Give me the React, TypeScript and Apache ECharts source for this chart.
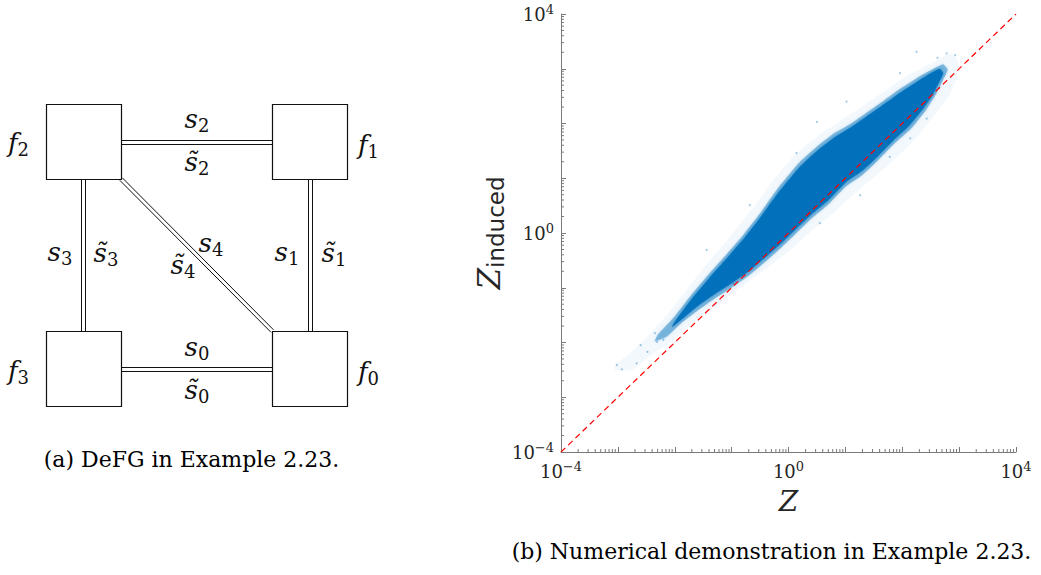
import React, { useEffect, useRef } from "react";
import * as echarts from "echarts";

// ---------- data (log10 values) ----------
// axis range, in decades
const axisMinExp = -4;
const axisMaxExp = 4;
// decades that carry a tick label
const xLabelExponents = [-4, 0, 4];
const yLabelExponents = [-4, 0, 4];

// outline of the sparse outer halo of the point cloud: [log10 Z, log10 Z_induced]
const haloUpper = [
  [-3.05, -2.42], [-2.7, -2.12], [-2.4, -1.8], [-2.1, -1.45], [-1.8, -1.05], [-1.5, -0.65],
  [-1.2, -0.28], [-0.9, 0.1], [-0.6, 0.5], [-0.3, 0.92], [0.1, 1.42], [0.5, 1.76], [0.9, 2.04],
  [1.3, 2.32], [1.7, 2.6], [2.1, 2.88], [2.5, 3.1], [2.85, 3.28],
];
const haloLower = [
  [2.98, 3.15], [2.95, 2.82], [2.82, 2.5], [2.6, 2.2], [2.3, 1.8], [2.0, 1.48], [1.6, 1.1],
  [1.2, 0.76], [0.8, 0.38], [0.4, 0.03], [0.0, -0.34], [-0.4, -0.66], [-0.8, -0.96], [-1.2, -1.28],
  [-1.6, -1.58], [-2.0, -1.94], [-2.4, -2.22], [-2.75, -2.5], [-3.05, -2.5],
];
// outline of the visible band (medium density edge)
const mainUpper = [
  [-2.3, -1.86], [-2.0, -1.52], [-1.7, -1.12], [-1.4, -0.75], [-1.1, -0.4], [-0.8, -0.04],
  [-0.5, 0.36], [-0.2, 0.8], [0.2, 1.3], [0.5, 1.58], [0.8, 1.82], [1.1, 2.0], [1.4, 2.22],
  [1.7, 2.44], [2.0, 2.66], [2.3, 2.86], [2.55, 3.0], [2.72, 3.08],
];
const mainLower = [
  [2.8, 2.98], [2.72, 2.8], [2.6, 2.55], [2.4, 2.22], [2.15, 1.9], [1.85, 1.62], [1.55, 1.3],
  [1.3, 1.06], [1.0, 0.84], [0.7, 0.52], [0.4, 0.26], [0.2, 0.06], [-0.1, -0.24], [-0.4, -0.52],
  [-0.7, -0.78], [-1.0, -1.0], [-1.3, -1.2], [-1.6, -1.42], [-1.9, -1.66], [-2.15, -1.9],
  [-2.35, -1.98],
];
// outline of the solid core
const coreUpper = [
  [-2.0, -1.62], [-1.7, -1.2], [-1.4, -0.83], [-1.1, -0.48], [-0.8, -0.12], [-0.5, 0.28],
  [-0.2, 0.71], [0.2, 1.21], [0.5, 1.5], [0.8, 1.74], [1.1, 1.93], [1.4, 2.15], [1.7, 2.37],
  [2.0, 2.59], [2.3, 2.79], [2.52, 2.93], [2.66, 3.0],
];
const coreLower = [
  [2.72, 2.92], [2.66, 2.78], [2.55, 2.55], [2.36, 2.26], [2.12, 1.96], [1.85, 1.7], [1.55, 1.38],
  [1.3, 1.14], [1.0, 0.92], [0.7, 0.6], [0.4, 0.34], [0.2, 0.14], [-0.1, -0.16], [-0.4, -0.44],
  [-0.7, -0.7], [-1.0, -0.92], [-1.3, -1.12], [-1.6, -1.34], [-1.9, -1.6], [-2.05, -1.72],
];
// isolated points outside the band
const outliers = [
  [-3.02, -2.41], [-2.93, -2.49], [-2.67, -2.38], [-2.48, -2.17], [-2.31, -1.99], [-2.35, -1.83],
  [-1.44, -0.31], [-0.68, 0.51], [0.14, 1.46], [0.5, 2.03], [1.02, 2.4], [1.96, 2.92],
  [2.25, 3.31], [2.78, 3.28], [2.43, 2.09], [2.14, 1.73], [1.78, 1.39], [1.26, 0.69],
  [0.55, 0.18], [-0.97, -0.92], [2.93, 3.25], [-2.6, -2.05], [-2.2, -1.95], [2.62, 3.2],
];
// reference line Z_induced = Z
const identityLine = [[-4, -4], [4, 4]];

// diagram labels
const nodeLabels = ["f", "f", "f", "f"];
const nodeIndex = ["2", "1", "3", "0"];
const edgeIndex = ["0", "1", "2", "3", "4"];
const captionA = "(a) DeFG in Example 2.23.";
const captionB = "(b) Numerical demonstration in Example 2.23.";

// ---------- styles ----------
const SERIF = "DejaVu Serif";
const SANS = "DejaVu Sans";
const INK = "#111111";
const AXIS = "#7a7a7a";
const LABEL = "#262626";

const pow10 = (pts: number[][]) => pts.map(([a, b]) => [Math.pow(10, a), Math.pow(10, b)]);

function bandSeries(upper: number[][], lower: number[][], fill: string, blur: number, shadow: string) {
  const pts = pow10(upper.concat(lower));
  return {
    type: "custom",
    silent: true,
    clip: false,
    data: pts,
    renderItem: (params: any, api: any) => {
      if (params.dataIndex !== 0) return null;
      const points: number[][] = [];
      for (let i = 0; i < pts.length; i++) {
        points.push(api.coord([api.value(0, i), api.value(1, i)]));
      }
      return {
        type: "polygon",
        shape: { points, smooth: 0.15 },
        style: { fill, shadowBlur: blur, shadowColor: shadow },
      };
    },
  };
}

const minorTicks: number[][] = [];
for (let k = axisMinExp; k < axisMaxExp; k++) {
  for (let m = 2; m <= 9; m++) minorTicks.push([m * Math.pow(10, k), m * Math.pow(10, k)]);
}

const tickRich = {
  b: { fontFamily: SERIF, fontSize: 18, lineHeight: 22, color: LABEL },
  sup: { fontFamily: SERIF, fontSize: 13, lineHeight: 12, verticalAlign: "top", color: LABEL },
};

function tickFormatter(allowed: number[]) {
  return (value: number) => {
    const e = Math.round(Math.log10(value));
    if (allowed.indexOf(e) < 0) return "";
    const s = e < 0 ? "\u2212" + Math.abs(e) : String(e);
    return "{b|10}{sup|" + s + "}";
  };
}

const mathRich = {
  m: { fontFamily: SERIF, fontStyle: "italic", fontSize: 26, lineHeight: 30, fill: INK },
  r: { fontFamily: SERIF, fontSize: 18, lineHeight: 18, verticalAlign: "bottom", fill: INK },
};

function mathText(x: number, y: number, main: string, sub: string, align = "center") {
  return {
    type: "text",
    x,
    y,
    silent: true,
    style: { text: "{m|" + main + "}{r|" + sub + "}", rich: mathRich, align, verticalAlign: "middle" },
  };
}

function hLine(x1: number, x2: number, y: number) {
  return { type: "line", silent: true, shape: { x1, y1: y, x2, y2: y }, style: { stroke: INK, lineWidth: 1 } };
}
function vLine(x: number, y1: number, y2: number) {
  return { type: "line", silent: true, shape: { x1: x, y1, x2: x, y2 }, style: { stroke: INK, lineWidth: 1 } };
}
function box(x: number, y: number) {
  return {
    type: "rect",
    silent: true,
    shape: { x, y, width: 75, height: 75 },
    style: { fill: "#ffffff", stroke: INK, lineWidth: 1.2 },
  };
}

function buildGraphic() {
  const tilde = "s\u0303";
  return [
    // connections (double lines)
    hLine(121, 272, 140.5), hLine(121, 272, 144.5),
    hLine(121, 272, 367.5), hLine(121, 272, 371.5),
    vLine(81.5, 179, 331), vLine(85.5, 179, 331),
    vLine(308.5, 179, 331), vLine(312.5, 179, 331),
    { type: "line", silent: true, shape: { x1: 122.3, y1: 177.8, x2: 273.5, y2: 329.8 }, style: { stroke: INK, lineWidth: 1 } },
    { type: "line", silent: true, shape: { x1: 119.8, y1: 180.3, x2: 271.0, y2: 332.3 }, style: { stroke: INK, lineWidth: 1 } },
    // factor boxes
    box(46.5, 104.5), box(272.5, 104.5), box(46.5, 331.5), box(272.5, 331.5),
    // factor labels
    mathText(8, 143, nodeLabels[0], nodeIndex[0], "left"),
    mathText(358, 145, nodeLabels[1], nodeIndex[1], "left"),
    mathText(8, 371, nodeLabels[2], nodeIndex[2], "left"),
    mathText(358, 372, nodeLabels[3], nodeIndex[3], "left"),
    // edge labels
    mathText(197, 119, "s", edgeIndex[2]),
    mathText(197, 162, tilde, edgeIndex[2]),
    mathText(197, 347, "s", edgeIndex[0]),
    mathText(197, 390, tilde, edgeIndex[0]),
    mathText(60, 252, "s", edgeIndex[3]),
    mathText(106, 253, tilde, edgeIndex[3]),
    mathText(211, 243, "s", edgeIndex[4]),
    mathText(183, 265, tilde, edgeIndex[4]),
    mathText(287, 252, "s", edgeIndex[1]),
    mathText(334, 253, tilde, edgeIndex[1]),
    // captions
    {
      type: "text", x: 191.5, y: 459, silent: true,
      style: { text: captionA, fontFamily: SERIF, fontSize: 22, fill: "#000", align: "center", verticalAlign: "middle" },
    },
    {
      type: "text", x: 771.5, y: 551, silent: true,
      style: { text: captionB, fontFamily: SERIF, fontSize: 22, fill: "#000", align: "center", verticalAlign: "middle" },
    },
  ];
}

export default function App() {
  const ref = useRef<HTMLDivElement>(null);
  useEffect(() => {
    if (!ref.current) return;
    const chart = echarts.init(ref.current, undefined, { renderer: "svg" });
    const axMin = Math.pow(10, axisMinExp);
    const axMax = Math.pow(10, axisMaxExp);
    const option: any = {
      animation: false,
      backgroundColor: "#ffffff",
      textStyle: { fontFamily: SERIF },
      grid: { left: 561, top: 14, width: 455, height: 438, containLabel: false },
      xAxis: {
        type: "log",
        logBase: 10,
        min: axMin,
        max: axMax,
        splitNumber: 8,
        axisLine: { show: true, onZero: false, lineStyle: { color: AXIS, width: 1 } },
        axisTick: { show: true, inside: true, length: 5, lineStyle: { color: AXIS, width: 1 } },
        splitLine: { show: false },
        axisLabel: { formatter: tickFormatter(xLabelExponents), rich: tickRich, margin: 8, showMinLabel: true, showMaxLabel: true },
        name: "Z",
        nameLocation: "middle",
        nameGap: 35,
        nameTextStyle: { fontFamily: SERIF, fontStyle: "italic", fontSize: 28, color: LABEL },
      },
      yAxis: {
        type: "log",
        logBase: 10,
        min: axMin,
        max: axMax,
        splitNumber: 8,
        axisLine: { show: true, onZero: false, lineStyle: { color: AXIS, width: 1 } },
        axisTick: { show: true, inside: true, length: 5, lineStyle: { color: AXIS, width: 1 } },
        splitLine: { show: false },
        axisLabel: { formatter: tickFormatter(yLabelExponents), rich: tickRich, margin: 7, showMinLabel: true, showMaxLabel: true },
        name: "{z|Z}{s|induced}",
        nameLocation: "middle",
        nameRotate: 90,
        nameGap: 54,
        nameTextStyle: {
          rich: {
            z: { fontFamily: SERIF, fontStyle: "italic", fontSize: 31, lineHeight: 36, color: LABEL },
            s: { fontFamily: SANS, fontSize: 23, lineHeight: 18, verticalAlign: "bottom", color: LABEL },
          },
        },
      },
      series: [
        bandSeries(haloUpper, haloLower, "rgba(0,114,189,0.05)", 0, "rgba(0,0,0,0)"),
        bandSeries(mainUpper, mainLower, "rgba(0,114,189,0.42)", 3, "rgba(0,114,189,0.4)"),
        bandSeries(coreUpper, coreLower, "rgba(0,112,187,0.95)", 3, "rgba(0,114,189,0.7)"),
        {
          type: "scatter",
          silent: true,
          symbolSize: 2,
          itemStyle: { color: "rgba(0,114,189,0.5)" },
          data: pow10(outliers),
        },
        {
          type: "line",
          silent: true,
          showSymbol: false,
          data: pow10(identityLine),
          lineStyle: { color: "#ff0000", width: 1.2, type: [6, 4] },
        },
        {
          type: "custom",
          silent: true,
          clip: false,
          data: minorTicks,
          renderItem: (params: any, api: any) => {
            const v = api.value(0);
            const px = api.coord([v, axMin]);
            const py = api.coord([axMin, v]);
            return {
              type: "group",
              children: [
                { type: "line", shape: { x1: px[0], y1: px[1], x2: px[0], y2: px[1] - 3 }, style: { stroke: AXIS, lineWidth: 1 } },
                { type: "line", shape: { x1: py[0], y1: py[1], x2: py[0] + 3, y2: py[1] }, style: { stroke: AXIS, lineWidth: 1 } },
              ],
            };
          },
        },
      ],
      graphic: buildGraphic(),
    };
    chart.setOption(option);
    return () => chart.dispose();
  }, []);
  return (
    <div
      ref={ref}
      style={{ position: "fixed", left: 0, top: 0, width: 1041, height: 575, background: "#fff" }}
    />
  );
}
